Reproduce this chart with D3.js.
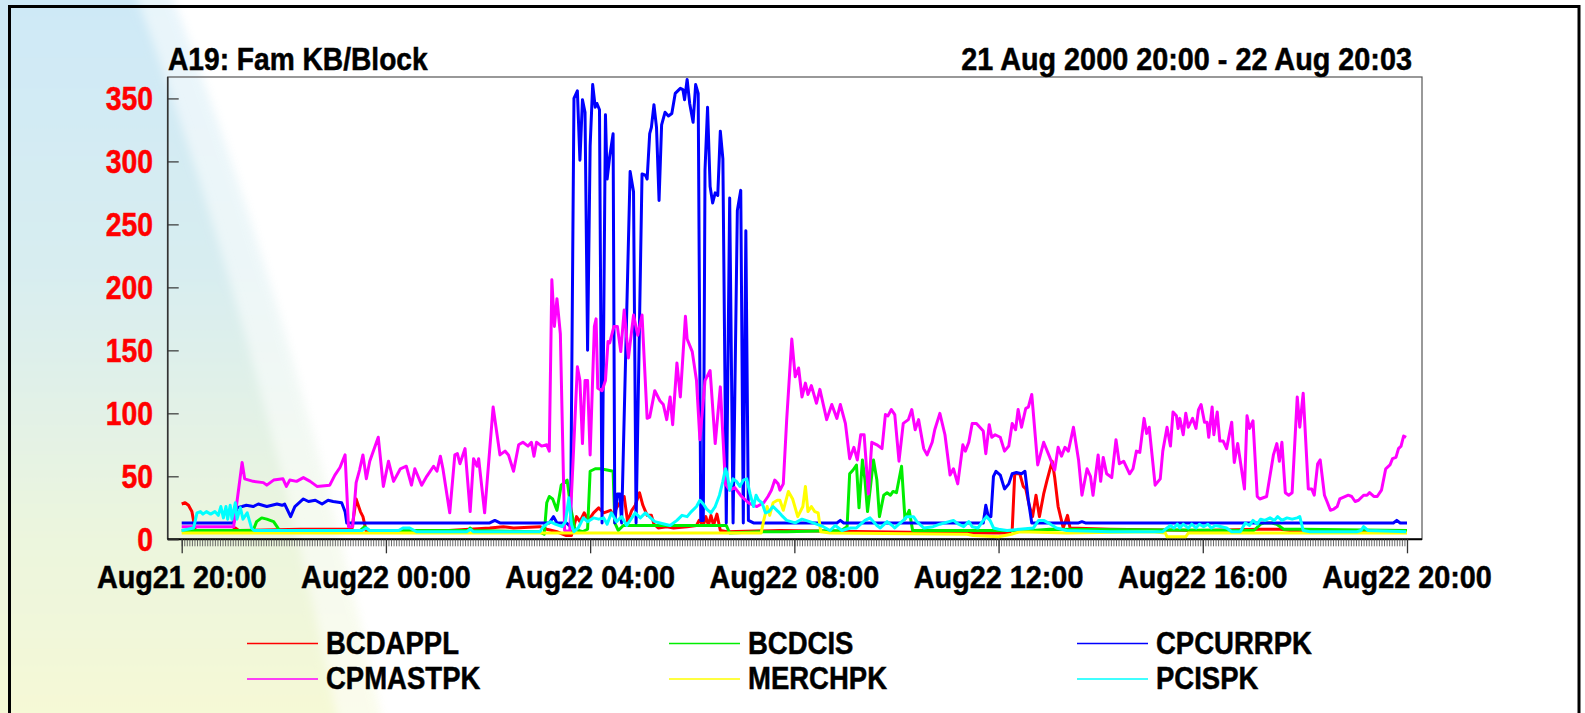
<!DOCTYPE html>
<html>
<head>
<meta charset="utf-8">
<script src="https://cdn.jsdelivr.net/npm/d3@7"></script>
<style>
  body { margin: 0; background: #fff; }
  svg { display: block; }
  text { font-family: "Liberation Sans", Arial, sans-serif; font-weight: bold; }
</style>
</head>
<body>
<div class="chart"></div>
<script>
// readings: [minutes after Aug21 20:00, KB/Block]
var bcdappl = [[0,28],[4,29],[8,27],[12,22],[16,7],[60,7],[63,9],[67,7],[140,8],[200,8],[205,32],[210,22],[213,18],[217,6],[290,6],[362,9],[378,10],[390,9],[421,10],[429,8],[441,6],[452,3],[458,3],[464,18],[468,14],[473,21],[478,15],[484,21],[490,25],[496,21],[504,23],[507,19],[511,25],[515,29],[520,34],[524,14],[529,23],[533,27],[538,37],[542,27],[547,19],[552,19],[555,12],[560,9],[570,10],[578,9],[594,10],[605,11],[608,15],[613,11],[616,18],[619,11],[622,19],[625,11],[629,20],[633,7],[641,6],[703,7],[923,5],[971,5],[976,7],[979,52],[985,52],[989,42],[992,40],[996,27],[1000,18],[1004,35],[1008,18],[1013,36],[1017,47],[1023,62],[1026,49],[1030,26],[1036,9],[1041,19],[1044,9],[1091,8],[1197,7],[1267,8],[1291,8],[1314,6],[1439,6]];

var bcdcis = [[0,7],[84,7],[88,14],[94,17],[100,16],[108,14],[112,10],[115,7],[210,7],[215,10],[220,7],[337,7],[339,9],[342,7],[420,6],[426,4],[429,29],[432,34],[436,32],[441,23],[446,43],[453,47],[457,26],[462,8],[471,6],[477,8],[480,54],[486,56],[492,56],[500,55],[507,54],[509,13],[513,7],[519,11],[640,11],[644,5],[680,6],[711,6],[775,7],[782,10],[785,52],[789,55],[793,59],[796,25],[800,63],[803,47],[806,22],[809,39],[813,63],[817,47],[820,18],[825,35],[829,37],[833,35],[836,38],[840,37],[846,58],[850,16],[855,23],[859,7],[1000,7],[1020,8],[1260,7],[1268,12],[1273,13],[1281,13],[1287,12],[1295,8],[1316,8],[1440,7]];

var cpcurrpk = [[0,13],[61,13],[65,25],[71,26],[76,27],[84,26],[90,28],[100,26],[112,28],[118,27],[121,28],[128,18],[133,26],[143,32],[149,30],[157,31],[165,28],[172,31],[178,30],[188,29],[192,22],[194,13],[362,13],[368,15],[374,13],[432,13],[437,18],[441,13],[452,13],[457,10],[461,350],[465,356],[468,301],[471,349],[474,339],[477,150],[480,312],[483,361],[486,343],[488,346],[491,341],[494,13],[498,337],[500,286],[503,304],[507,322],[509,13],[512,36],[515,36],[517,13],[527,292],[531,276],[534,13],[541,290],[545,289],[547,286],[550,322],[552,327],[555,345],[558,327],[561,269],[564,329],[568,339],[572,336],[576,338],[580,354],[586,358],[589,357],[591,349],[594,365],[597,346],[601,331],[604,361],[607,354],[610,15],[613,15],[615,293],[618,343],[621,280],[624,267],[627,275],[630,273],[633,324],[636,302],[640,13],[644,271],[648,13],[653,261],[657,277],[660,13],[663,245],[666,15],[672,13],[770,13],[774,15],[778,13],[942,13],[945,27],[948,18],[951,18],[954,50],[957,54],[962,51],[967,40],[972,44],[976,52],[981,53],[987,52],[991,54],[995,31],[999,13],[1054,13],[1058,14],[1062,13],[1424,13],[1428,15],[1432,13],[1440,13]];

var cpmastpk = [[0,10],[61,10],[65,30],[71,61],[74,48],[84,46],[96,45],[100,43],[108,47],[119,48],[123,42],[127,47],[135,46],[143,49],[151,46],[159,42],[174,43],[180,51],[186,57],[192,67],[196,10],[201,10],[205,45],[209,55],[213,67],[217,48],[221,62],[231,81],[237,42],[243,62],[249,46],[257,56],[264,58],[270,43],[274,56],[282,43],[288,50],[296,58],[300,54],[304,66],[307,56],[315,21],[321,67],[324,68],[327,60],[333,72],[339,22],[343,64],[347,58],[349,64],[356,21],[366,105],[374,67],[380,70],[384,67],[390,54],[396,75],[401,77],[407,74],[411,77],[414,66],[417,77],[423,74],[429,75],[432,70],[435,206],[438,169],[441,191],[445,163],[450,7],[456,6],[460,63],[465,137],[468,126],[471,76],[474,126],[477,126],[480,67],[485,169],[487,175],[489,120],[494,118],[498,126],[501,157],[503,156],[508,169],[512,169],[516,149],[520,182],[525,144],[531,178],[536,162],[541,178],[547,96],[550,97],[556,118],[562,110],[566,107],[570,95],[574,113],[577,91],[582,140],[586,113],[592,177],[594,159],[600,149],[605,126],[609,79],[615,126],[621,134],[627,76],[633,121],[639,44],[644,39],[650,41],[658,34],[666,29],[676,26],[684,29],[689,34],[693,39],[697,47],[701,44],[703,39],[707,44],[711,95],[717,159],[721,129],[725,136],[729,113],[733,124],[736,115],[740,122],[746,108],[750,119],[758,95],[764,107],[770,96],[774,107],[780,92],[785,64],[790,73],[794,63],[798,83],[802,83],[807,36],[811,77],[817,75],[823,72],[827,99],[830,98],[834,103],[838,99],[843,62],[848,92],[854,95],[858,103],[862,87],[866,95],[872,72],[876,67],[882,77],[885,87],[891,100],[897,83],[903,51],[907,56],[912,44],[918,75],[921,70],[925,77],[929,92],[934,92],[938,89],[942,86],[945,68],[949,91],[952,81],[956,83],[962,81],[967,70],[972,74],[976,92],[980,87],[983,103],[987,89],[992,104],[995,105],[999,115],[1006,59],[1013,77],[1019,67],[1026,55],[1030,73],[1034,66],[1038,73],[1042,70],[1048,89],[1054,63],[1058,35],[1064,56],[1068,50],[1071,35],[1077,67],[1080,46],[1083,65],[1087,52],[1093,49],[1098,79],[1102,60],[1107,62],[1114,52],[1118,56],[1122,70],[1126,69],[1131,96],[1134,84],[1137,89],[1144,43],[1150,48],[1153,70],[1158,89],[1162,74],[1165,101],[1169,98],[1171,88],[1173,96],[1177,83],[1180,100],[1183,89],[1188,96],[1192,88],[1195,103],[1198,107],[1202,93],[1205,93],[1207,81],[1211,105],[1213,83],[1217,101],[1220,78],[1224,78],[1228,72],[1234,93],[1237,61],[1241,76],[1249,40],[1252,98],[1255,88],[1259,94],[1264,34],[1267,32],[1271,33],[1275,34],[1283,67],[1287,76],[1290,62],[1293,77],[1297,37],[1301,35],[1305,37],[1311,113],[1314,89],[1318,116],[1324,40],[1328,40],[1331,35],[1335,60],[1338,63],[1343,35],[1346,30],[1350,23],[1354,24],[1358,26],[1361,32],[1371,35],[1375,34],[1379,30],[1383,31],[1389,35],[1393,35],[1396,37],[1401,34],[1405,34],[1410,39],[1415,56],[1420,59],[1423,64],[1427,65],[1430,72],[1433,74],[1436,82],[1439,81]];

var merchpk = [[0,5],[678,5],[681,5],[684,15],[688,26],[691,19],[695,29],[700,31],[703,31],[707,23],[713,38],[718,32],[724,18],[730,26],[733,42],[736,22],[740,26],[744,22],[748,21],[751,6],[762,5],[923,4],[930,3],[960,2],[975,4],[985,6],[1040,5],[1140,6],[1156,5],[1158,2],[1180,2],[1183,5],[1440,5]];

var pcispk = [[0,7],[14,9],[18,21],[22,22],[25,20],[29,22],[34,20],[39,22],[43,19],[46,26],[49,17],[52,26],[54,16],[57,27],[59,16],[63,29],[65,16],[69,25],[72,16],[77,21],[82,9],[85,7],[212,7],[217,9],[221,7],[255,7],[260,9],[268,9],[276,6],[335,6],[339,8],[343,6],[421,6],[425,10],[433,14],[439,12],[447,10],[451,14],[455,33],[458,12],[461,6],[466,9],[472,17],[477,14],[484,17],[490,16],[496,17],[500,12],[505,21],[511,14],[517,18],[523,11],[533,21],[539,17],[545,21],[551,17],[556,14],[562,13],[568,12],[574,11],[582,15],[588,19],[594,18],[599,22],[605,26],[609,31],[613,28],[617,24],[622,21],[627,26],[632,35],[636,46],[639,56],[641,52],[644,39],[648,48],[652,46],[656,42],[660,47],[664,48],[668,36],[672,26],[675,35],[678,31],[682,29],[686,21],[690,22],[695,26],[701,22],[705,19],[711,15],[721,13],[729,16],[738,14],[746,12],[754,10],[762,7],[768,11],[776,7],[786,9],[793,9],[803,15],[809,17],[817,11],[821,9],[829,14],[835,11],[838,9],[848,15],[852,18],[860,18],[864,14],[872,9],[883,10],[891,12],[907,15],[913,12],[919,10],[925,14],[929,10],[936,9],[942,15],[946,18],[950,15],[954,9],[960,8],[970,7],[985,8],[1001,9],[1007,15],[1013,15],[1021,12],[1028,9],[1040,7],[1091,6],[1153,6],[1158,9],[1162,11],[1166,9],[1170,12],[1173,9],[1177,12],[1183,9],[1187,12],[1192,9],[1196,12],[1201,10],[1206,12],[1210,9],[1215,11],[1222,10],[1228,9],[1234,6],[1244,6],[1250,13],[1255,11],[1259,15],[1264,12],[1268,16],[1273,15],[1279,17],[1284,15],[1288,18],[1293,15],[1299,17],[1305,16],[1311,17],[1314,18],[1318,7],[1326,6],[1381,6],[1386,7],[1389,10],[1394,7],[1439,6]];

var seriesNames = ["BCDAPPL", "BCDCIS", "CPCURRPK", "CPMASTPK", "MERCHPK", "PCISPK"];
var seriesData = [bcdappl, bcdcis, cpcurrpk, cpmastpk, merchpk, pcispk];
var seriesColors = ["#ff0000", "#00ee00", "#0000ff", "#ff00ff", "#ffff00", "#00ffff"];

var yTicks = [0, 50, 100, 150, 200, 250, 300, 350];
var titleLeft = "A19: Fam KB/Block";
var titleRight = "21 Aug 2000 20:00 - 22 Aug 20:03";

var svgWidth = 1585;
var svgHeight = 713;

var start = new Date(2000, 7, 21, 20, 0);
var end = new Date(2000, 7, 22, 20, 0);

var box = { left: 167.7, right: 1422, top: 77, bottom: 539.3 };

var svg = d3.select(".chart")
  .append("svg")
  .attr("width", svgWidth)
  .attr("height", svgHeight);

// background swoosh
var defs = svg.append("defs");
var grad = defs.append("linearGradient")
  .attr("id", "bgGrad")
  .attr("x1", 0).attr("y1", 0).attr("x2", 0).attr("y2", 1);
[["0", "#cce8f8"], ["0.4", "#d8edf0"], ["0.7", "#ebf5de"], ["1", "#f9fad3"]].forEach(function(s) {
  grad.append("stop").attr("offset", s[0]).attr("stop-color", s[1]);
});
defs.append("filter").attr("id", "soft")
  .attr("x", "-20%").attr("y", "-20%").attr("width", "140%").attr("height", "140%")
  .append("feGaussianBlur").attr("stdDeviation", 5);

svg.append("path")
  .attr("d", "M-60,-60 L150,-60 Q295,300 395,780 L-60,780 Z")
  .attr("fill", "url(#bgGrad)")
  .attr("opacity", 0.45)
  .attr("filter", "url(#soft)");
svg.append("path")
  .attr("d", "M-60,-60 L115,-60 Q255,300 350,780 L-60,780 Z")
  .attr("fill", "url(#bgGrad)")
  .attr("filter", "url(#soft)");

// frame
svg.append("rect")
  .attr("x", 9.5).attr("y", 6.5)
  .attr("width", 1569.5).attr("height", 740)
  .attr("fill", "none")
  .attr("stroke", "#000")
  .attr("stroke-width", 3);

// scales
var x = d3.scaleTime().domain([start, end]).range([181.7, 1407]);
var y = d3.scaleLinear().domain([0, 367]).range([box.bottom, box.top]);

function toDate(m) { return d3.timeMinute.offset(start, m); }

// the original lettering is a tall, narrow bold face
function squeeze(sel, px, py, k) {
  sel.attr("transform", "translate(" + px + "," + py + ") scale(" + (k || 0.88) + ",1)")
    .attr("stroke-width", 0.5)
    .attr("paint-order", "stroke");
  return sel;
}

// plot box
svg.append("rect")
  .attr("x", box.left).attr("y", box.top)
  .attr("width", box.right - box.left).attr("height", box.bottom - box.top)
  .attr("fill", "none")
  .attr("stroke", "#555")
  .attr("stroke-width", 1.2);
svg.append("line")
  .attr("x1", box.left).attr("x2", box.left).attr("y1", box.top).attr("y2", box.bottom)
  .attr("stroke", "#333").attr("stroke-width", 1.6);
svg.append("line")
  .attr("x1", box.left).attr("x2", box.right).attr("y1", box.bottom).attr("y2", box.bottom)
  .attr("stroke", "#000").attr("stroke-width", 2);

// y axis ticks pointing inwards
var leftAxis = d3.axisLeft(y).tickValues(yTicks).tickSize(-11).tickFormat("");
var yAxis = svg.append("g")
  .attr("transform", "translate(" + box.left + ",0)")
  .call(leftAxis);
yAxis.select(".domain").remove();
yAxis.selectAll("line").attr("stroke", "#333").attr("stroke-width", 1.2);

yTicks.forEach(function(v) {
  squeeze(svg.append("text"), 153, y(v) + 12, 0.86)
    .attr("text-anchor", "end")
    .attr("font-size", "33px")
    .attr("fill", "#ff0000")
    .attr("stroke", "#ff0000")
    .text(v);
});

// x axis: minor ticks every 3 minutes, major every 4 hours
var minorAxis = d3.axisBottom(x).ticks(d3.timeMinute.every(3)).tickSize(7).tickFormat("");
var gMinor = svg.append("g")
  .attr("transform", "translate(0," + box.bottom + ")")
  .call(minorAxis);
gMinor.select(".domain").remove();
gMinor.selectAll("line").attr("stroke", "#444").attr("stroke-width", 0.8);

var majorTicks = x.ticks(d3.timeHour.every(4));
var bottomAxis = d3.axisBottom(x).tickValues(majorTicks).tickSize(14).tickFormat("");
var gMajor = svg.append("g")
  .attr("transform", "translate(0," + box.bottom + ")")
  .call(bottomAxis);
gMajor.select(".domain").remove();
gMajor.selectAll("line").attr("stroke", "#333").attr("stroke-width", 1.3);

var fmt = d3.timeFormat("%b%d %H:%M");
majorTicks.forEach(function(t) {
  squeeze(svg.append("text"), x(t), 588, 0.9)
    .attr("text-anchor", "middle")
    .attr("font-size", "32px")
    .attr("fill", "#000")
    .attr("stroke", "#000")
    .text(fmt(t));
});

// titles
squeeze(svg.append("text"), 168, 70, 0.88)
  .attr("font-size", "32px")
  .attr("stroke", "#000")
  .text(titleLeft);
squeeze(svg.append("text"), 1412, 70, 0.9)
  .attr("text-anchor", "end")
  .attr("font-size", "32px")
  .attr("stroke", "#000")
  .text(titleRight);

// series lines
var line = d3.line()
  .x(function(d) { return x(toDate(d[0])); })
  .y(function(d) { return y(d[1]); });

seriesData.forEach(function(data, i) {
  svg.append("path")
    .datum(data)
    .attr("fill", "none")
    .attr("stroke", seriesColors[i])
    .attr("stroke-width", 3)
    .attr("stroke-linejoin", "round")
    .attr("d", line);
});

// legend
var legendCols = [247, 669, 1077];
var legendRows = [643.5, 679];
seriesNames.forEach(function(name, i) {
  var cx = legendCols[i % 3];
  var cy = legendRows[Math.floor(i / 3)];
  svg.append("line")
    .attr("x1", cx).attr("x2", cx + 71)
    .attr("y1", cy).attr("y2", cy)
    .attr("stroke", seriesColors[i])
    .attr("stroke-width", 1.6);
  squeeze(svg.append("text"), cx + 79, cy + 10, 0.86)
    .attr("font-size", "32px")
    .attr("stroke", "#000")
    .text(name);
});
</script>
</body>
</html>
